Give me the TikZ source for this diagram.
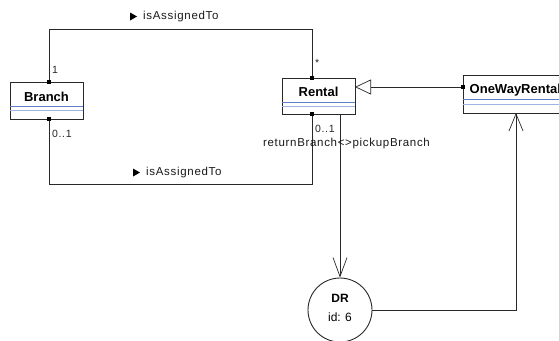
\documentclass[tikz,border=0pt]{standalone}
\usepackage{fontspec}
\setmainfont{Liberation Sans}
\newfontfamily\labfont[LetterSpace=6]{Liberation Sans}
\usetikzlibrary{arrows.meta}
\definecolor{lineA}{RGB}{96,128,200}
\definecolor{lineB}{RGB}{160,180,224}
\definecolor{edge}{RGB}{40,40,40}
\tikzset{
  cls/.style={draw=edge, line width=0.9pt, fill=white, inner sep=0pt},
  ttl/.style={font=\fontsize{13}{13}\selectfont\bfseries, inner sep=0pt},
  lab/.style={font=\labfont\fontsize{11.5}{12}\selectfont, inner sep=0pt, text=black!90},
  mult/.style={font=\labfont\fontsize{10.5}{10.5}\selectfont, inner sep=0pt, text=black!85},
  conn/.style={draw=edge, line width=0.7pt},
  sq/.style={fill=black, minimum size=3.5pt, inner sep=0pt},
}
\begin{document}
\begin{tikzpicture}[x=1pt,y=-1pt]
\useasboundingbox (0,0) rectangle (559,340);
\clip (0,0) rectangle (559,340);
% Boxes
\draw[cls] (10,82) rectangle (83,119);
\draw[lineA,line width=0.7pt] (10,106) -- (83,106);
\draw[lineB,line width=0.7pt] (10,110) -- (83,110);
\node[ttl] (branch) at (46.5,97) {Branch};
\coordinate (btop) at (49,82);
\coordinate (bbot) at (49,119);

\draw[cls] (282,78) rectangle (355,114);
\draw[lineA,line width=0.7pt] (282,102) -- (355,102);
\draw[lineB,line width=0.7pt] (282,106) -- (355,106);
\node[ttl] (rental) at (318.5,92) {Rental};
\coordinate (rtop) at (312,78);
\coordinate (rbot) at (312,114);
\coordinate (rbot2) at (340,114);
\coordinate (rright) at (355,87);

\draw[cls] (463,75) rectangle (571,113);
\draw[lineA,line width=0.7pt] (463,99) -- (571,99);
\draw[lineB,line width=0.7pt] (463,104) -- (571,104);
\node[ttl,anchor=west] (owr) at (469.5,90) {OneWayRental};
\coordinate (oleft) at (463,87);
\coordinate (obot) at (516,113);

% DR circle
\node[draw=edge, line width=0.9pt, circle, minimum size=64pt, inner sep=0pt, fill=white] (dr) at (340,310) {};
\node[font=\fontsize{12}{12}\selectfont\bfseries, inner sep=0pt] (drt) at (340,298) {DR};
\node[font=\fontsize{12}{12}\selectfont, inner sep=0pt] (drid) at (340,317) {id: 6};

% associations
\draw[conn] (btop) -- (49,29) -- (312,29) -- (rtop);
\draw[conn] (bbot) -- (49,184) -- (312,184) -- (rbot);
\node[sq] at (btop) {};
\node[sq] at (rtop) {};
\node[sq] at (bbot) {};
\node[sq] at (rbot) {};

% generalization
\draw[conn, -{Triangle[open, length=16pt, width=15pt]}] (oleft) -- (rright);
\node[sq] at (oleft) {};

% dependencies
\draw[conn, -{Straight Barb[length=19pt, width=14pt, line width=0.7pt]}] (rbot2) -- (dr.north);
\draw[conn, -{Straight Barb[length=17pt, width=14pt, line width=0.7pt]}] (dr.east) -| (obot);

% labels
\fill[black] (130,12.5) -- (137,16.5) -- (130,20.5) -- cycle;
\node[lab, anchor=west] (l1) at (143,17) {isAssignedTo};
\fill[black] (133,168.5) -- (140,172.5) -- (133,176.5) -- cycle;
\node[lab, anchor=west] (l2) at (146,173) {isAssignedTo};
\node[mult, anchor=west] (m1) at (52,70) {1};
\node[mult, anchor=west] (m2) at (315,63) {*};
\node[mult, anchor=west] (m3) at (52,134) {0..1};
\node[mult, anchor=west] (m4) at (315,129) {0..1};
\node[lab] (rb) at (346.5,144) {returnBranch<>pickupBranch};
\end{tikzpicture}
\end{document}
